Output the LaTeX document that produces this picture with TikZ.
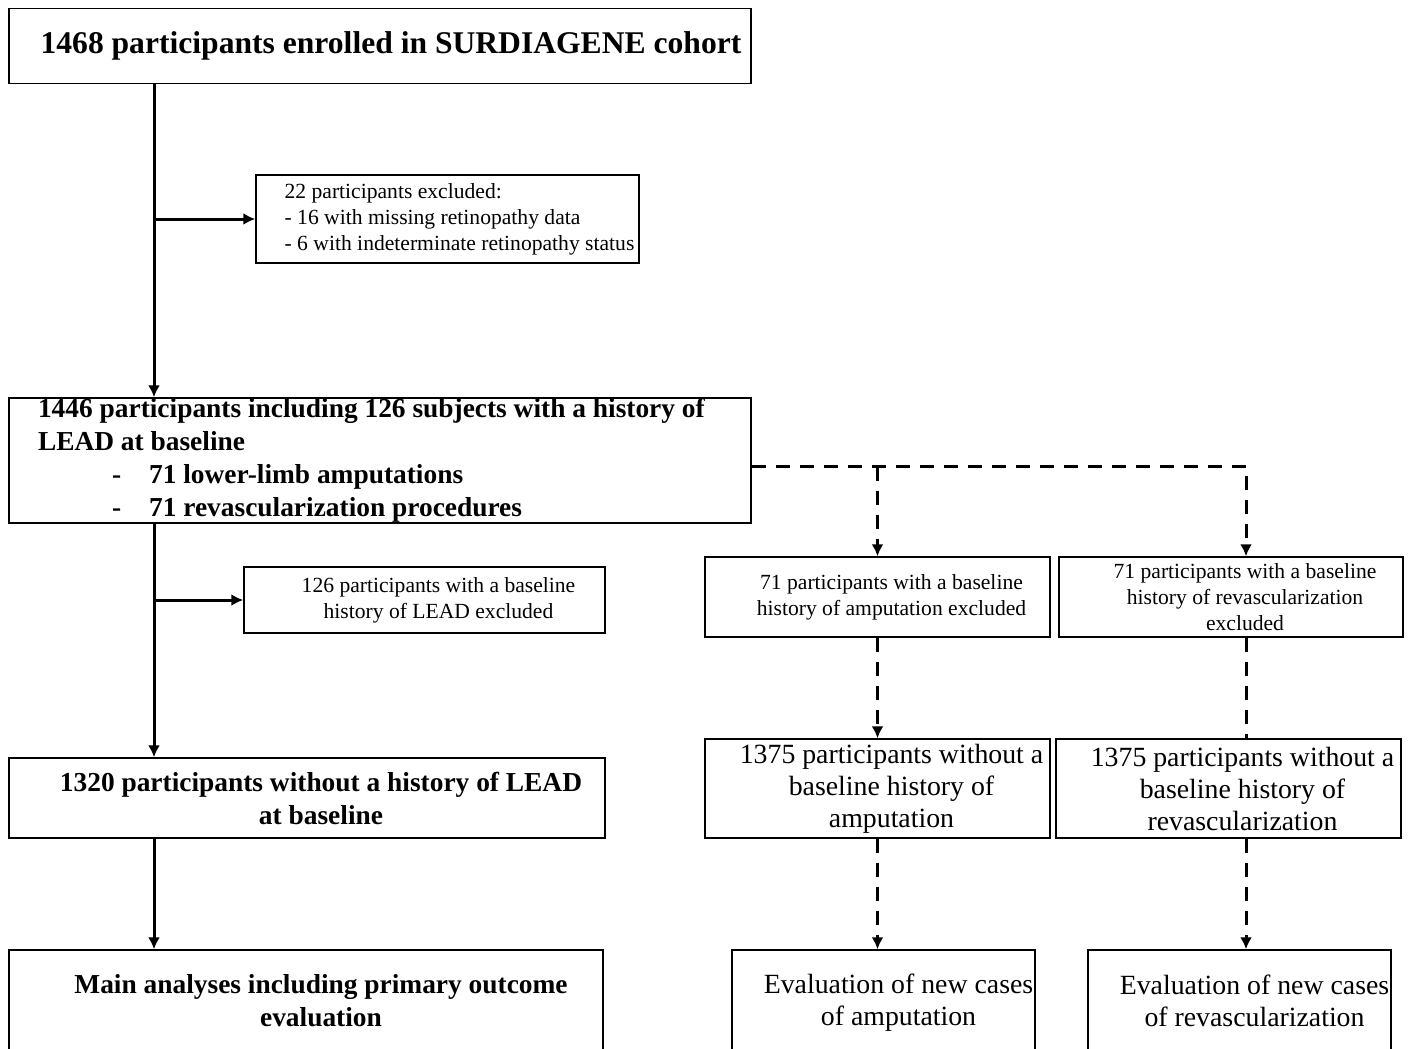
\documentclass[tikz,border=0pt]{standalone}
\usepackage{fontspec}
\setmainfont{Liberation Serif}
\usetikzlibrary{arrows.meta}

\begin{document}
\begin{tikzpicture}%
[x=0.5pt, y=-0.5pt,%
box/.style={draw, line width=0.75pt, inner sep=0pt, align=center},%
bigbold/.style={font=\fontsize{15.8}{18}\selectfont\bfseries},%
midbold/.style={font=\fontsize{13.7}{16.5}\selectfont\bfseries},%
mid/.style={font=\fontsize{13.9}{16}\selectfont},%
small/.style={font=\fontsize{10.8}{13}\selectfont},%
arr/.style={line width=1.5pt, -{Latex[length=6pt,width=6pt]}},%
dasharr/.style={line width=1.5pt, dash pattern=on 7pt off 5pt, -{Latex[length=6pt,width=6pt]}},%
dashline/.style={line width=1.5pt, dash pattern=on 7pt off 5pt}]
\clip (0,0) rectangle (1411,1048);
\fill[white] (0,0) rectangle (1411,1048);
\coordinate (trunk) at (154,0);
\coordinate (rcol) at (1246,0);
\node[box, bigbold, minimum width=371pt, minimum height=37.5pt] (enrol) at (380,46)
  {\hspace*{11pt}1468 participants enrolled in SURDIAGENE cohort};
\node[box, small, align=left, minimum width=191.5pt, minimum height=44pt] (excl1) at (447.5,219)
  {\hspace*{12pt}22 participants excluded:\\ \hspace*{12pt}- 16 with missing retinopathy data\\ \hspace*{12pt}- 6 with indeterminate retinopathy status};
\node[box, midbold, align=flush left, text width=342pt, minimum width=371pt, minimum height=62.5pt] (lead) at (380,460.5)
  {1446 participants including 126 subjects with a history of\\ LEAD at baseline\\
   \hspace*{37pt}-\hspace{14pt}71 lower-limb amputations\\
   \hspace*{37pt}-\hspace{14pt}71 revascularization procedures};
\node[box, small, minimum width=180.5pt, minimum height=33pt] (excl2) at (424.5,600)
  {\hspace*{14pt}126 participants with a baseline\\ \hspace*{14pt}history of LEAD excluded};
\node[box, midbold, minimum width=298pt, minimum height=40pt] (nolead) at (307,798)
  {\hspace*{14pt}1320 participants without a history of LEAD\\ \hspace*{14pt}at baseline};
\node[box, midbold, minimum width=297pt, minimum height=51pt] (main) at (306,1001)
  {\hspace*{15pt}Main analyses including primary outcome\\ \hspace*{15pt}evaluation};
\node[box, small, minimum width=172.5pt, minimum height=40pt] (ampex) at (877.5,597)
  {\hspace*{14pt}71 participants with a baseline\\ \hspace*{14pt}history of amputation excluded};
\node[box, small, minimum width=172pt, minimum height=40pt] (revex) at (1231,597)
  {\hspace*{14pt}71 participants with a baseline\\ \hspace*{14pt}history of revascularization\\ \hspace*{14pt}excluded};
\node[box, mid, minimum width=172.5pt, minimum height=49.5pt] (amp1375) at (877.5,788.5)
  {\hspace*{14pt}1375 participants without a\\ \hspace*{14pt}baseline history of\\ \hspace*{14pt}amputation};
\node[box, mid, minimum width=172.5pt, minimum height=49.5pt] (rev1375) at (1228.5,788.5)
  {\hspace*{14pt}1375 participants without a\\ \hspace*{14pt}baseline history of\\ \hspace*{14pt}revascularization};
\node[box, mid, minimum width=151.5pt, minimum height=53pt] (evalamp) at (883.5,1003)
  {\hspace*{15pt}Evaluation of new cases\\ \hspace*{15pt}of amputation};
\node[box, mid, minimum width=151.5pt, minimum height=51pt] (evalrev) at (1239.5,1001)
  {\hspace*{15pt}Evaluation of new cases\\ \hspace*{15pt}of revascularization};
\draw[arr] (enrol.south -| trunk) -- (lead.north -| trunk);
\draw[arr] (excl1.west -| trunk) -- (excl1.west);
\draw[arr] (lead.south -| trunk) -- (nolead.north -| trunk);
\draw[arr] (excl2.west -| trunk) -- (excl2.west);
\draw[arr] (nolead.south -| trunk) -- (main.north -| trunk);
\coordinate (dash) at ([yshift=-3pt]lead.east);
\draw[dasharr] (dash) -| (revex.north -| rcol);
\draw[dasharr] (ampex.north |- dash) -- (ampex.north);
\draw[dasharr] (ampex.south) -- (amp1375.north);
\draw[dashline] (revex.south -| rcol) -- (rev1375.north -| rcol);
\draw[dasharr] (amp1375.south) -- (evalamp.north -| amp1375.south);
\draw[dasharr] (rev1375.south -| rcol) -- (evalrev.north -| rcol);
\end{tikzpicture}
\end{document}
